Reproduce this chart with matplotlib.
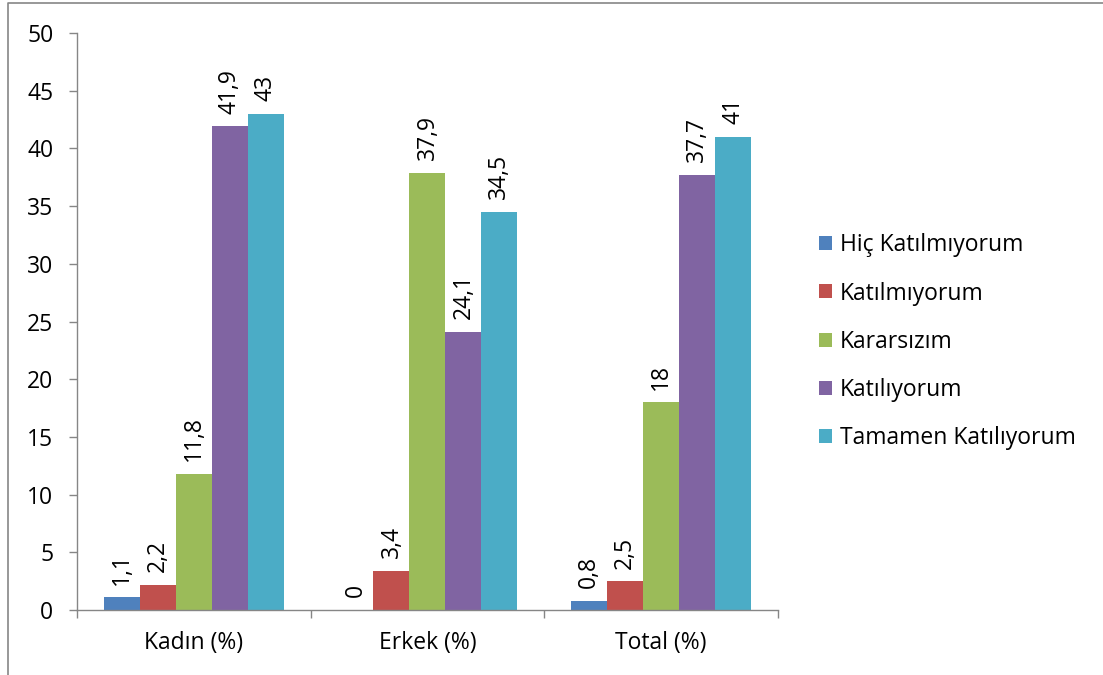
import matplotlib
matplotlib.use('Agg')
import matplotlib.pyplot as plt
from matplotlib.lines import Line2D
import numpy as np

plt.rcParams['font.family'] = ['Open Sans', 'DejaVu Sans']

groups = ['Kadın (%)', 'Erkek (%)', 'Total (%)']
series = ['Hiç Katılmıyorum', 'Katılmıyorum', 'Kararsızım', 'Katılıyorum', 'Tamamen Katılıyorum']
values = [
    [1.1, 0, 0.8],
    [2.2, 3.4, 2.5],
    [11.8, 37.9, 18],
    [41.9, 24.1, 37.7],
    [43, 34.5, 41],
]
colors = ['#4F81BD', '#C0504D', '#9BBB59', '#8064A2', '#4BACC6']
yticks = [0, 5, 10, 15, 20, 25, 30, 35, 40, 45, 50]

fs = 16.5
fig = plt.figure(figsize=(11.03, 6.75), dpi=100)
ax = fig.add_axes([0.0698, 0.0963, 0.6355, 0.8548])

w = 0.154
x = np.arange(len(groups))
grey = '#868686'
for i, (name, vals, c) in enumerate(zip(series, values, colors)):
    pos = x + (i - 2) * w
    ax.bar(pos, vals, width=w, color=c, label=name, linewidth=0)
    for p, v in zip(pos, vals):
        txt = ('%g' % v).replace('.', ',')
        ax.annotate(txt, (p, v), xytext=(0, 9), textcoords='offset points',
                    rotation=90, ha='center', va='bottom', fontsize=fs)

ax.set_xlim(-0.5, 2.5)
ax.set_ylim(0, 50)
ax.set_yticks(yticks)
ax.set_yticklabels([str(t) for t in yticks], fontsize=fs)
# category labels centred, boundary tick marks
ax.set_xticks(x)
ax.set_xticklabels(groups, fontsize=fs)
ax.tick_params(axis='x', length=0, pad=15)
ax.set_xticks([-0.5, 0.5, 1.5, 2.5], minor=True)
ax.tick_params(axis='x', which='minor', length=6, color=grey, width=1)
ax.tick_params(axis='y', length=6, color=grey, width=1, pad=11)
for s in ['top', 'right']:
    ax.spines[s].set_visible(False)
for s in ['left', 'bottom']:
    ax.spines[s].set_color(grey)
    ax.spines[s].set_linewidth(1)

leg = fig.legend(loc='upper left', bbox_to_anchor=(0.734, 0.668), frameon=False,
                 fontsize=fs, handlelength=0.56, handleheight=0.56,
                 handletextpad=0.35, labelspacing=1.06, borderaxespad=0)

# outer frame on left and top
fig.add_artist(Line2D([8 / 1103, 8 / 1103, 1.0], [0.0, 1 - 3 / 675, 1 - 3 / 675],
                      transform=fig.transFigure, color=grey, linewidth=1.2))

fig.savefig('out.png', dpi=100)
